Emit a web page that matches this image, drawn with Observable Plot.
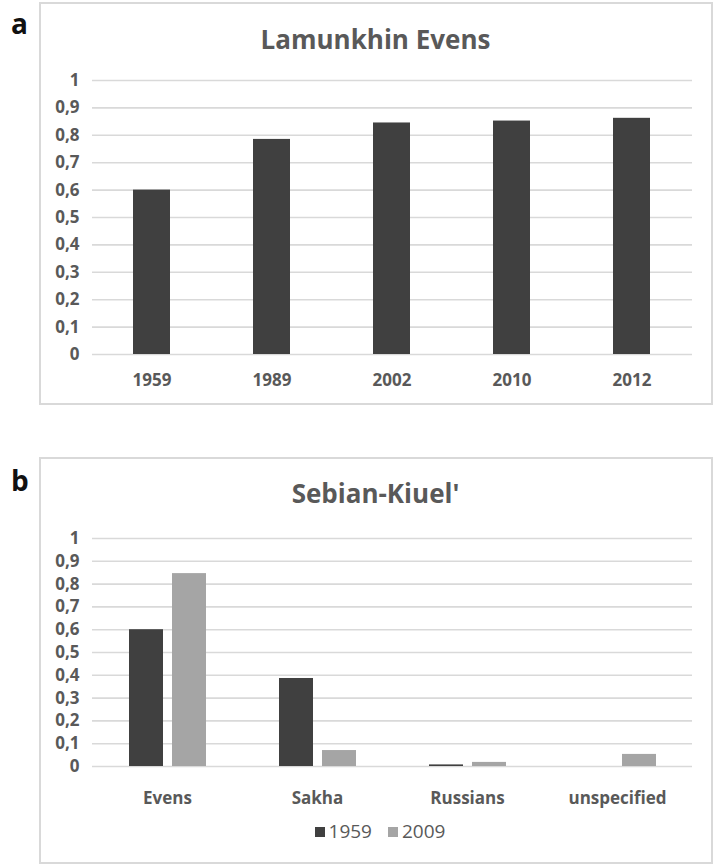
<!DOCTYPE html>
<html>
<head>
<meta charset="utf-8">
<script src="https://cdn.jsdelivr.net/npm/d3@7"></script>
<script src="https://cdn.jsdelivr.net/npm/@observablehq/plot@0.6"></script>
<style>
  html, body { margin: 0; padding: 0; background: #fff; }
  #root { position: relative; width: 716px; height: 865px; overflow: hidden; font-family: "Open Sans", sans-serif; }
  .frame { position: absolute; border: 2px solid #d9d9d9; box-sizing: border-box; }
  .panel-label { position: absolute; font-weight: bold; font-size: 28px; color: #111; line-height: 1; }
  .title { position: absolute; left: 39px; width: 673px; text-align: center; font-weight: bold; font-size: 26px; color: #595959; line-height: 1; }
  .plot { position: absolute; left: 0; }
  #legend { position: absolute; top: 822px; left: 44px; width: 672px; display: flex; justify-content: center; align-items: center; font-size: 19px; color: #595959; line-height: 1; }
  #legend .item { display: flex; align-items: center; margin: 0 8px; }
  #legend .sw { width: 10px; height: 10px; margin-right: 4px; }
</style>
</head>
<body>
<div id="root">
  <div class="frame" style="left:39px; top:2px; width:674px; height:403px;"></div>
  <div class="frame" style="left:39px; top:457px; width:674px; height:407px;"></div>
  <div class="panel-label" style="left:11px; top:9px;">a</div>
  <div class="panel-label" style="left:11px; top:466px;">b</div>
  <div class="title" style="top:26px;">Lamunkhin Evens</div>
  <div class="title" style="top:480px;">Sebian-Kiuel'</div>
  <div id="plotA" class="plot" style="top:0px;"></div>
  <div id="plotB" class="plot" style="top:440px;"></div>
  <div id="legend"></div>
</div>
<script>
// ---- data ----
const yearsA = ["1959", "1989", "2002", "2010", "2012"];
const valuesA = [0.60, 0.785, 0.845, 0.852, 0.862];

const groupsB = ["Evens", "Sakha", "Russians", "unspecified"];
const seriesB = ["1959", "2009"];
const values1959 = [0.60, 0.386, 0.007, 0];
const values2009 = [0.846, 0.07, 0.018, 0.053];

const yTicks = [0, 0.1, 0.2, 0.3, 0.4, 0.5, 0.6, 0.7, 0.8, 0.9, 1];
const seriesColors = ["#404040", "#a5a5a5"];

const fmt = d => String(d).replace(".", ",");
const axisStyle = {fontFamily: "Open Sans", fontSize: "17px", fontWeight: "bold", color: "#595959", background: "transparent"};

// ---- panel a ----
const dataA = yearsA.map((year, i) => ({year, value: valuesA[i]}));
const plotA = Plot.plot({
  width: 716,
  height: 404,
  marginLeft: 92,
  marginRight: 24,
  marginTop: 80,
  marginBottom: 50,
  style: axisStyle,
  x: {domain: yearsA, paddingInner: 0.69, paddingOuter: 0.345, tickSize: 0, tickPadding: 19, label: null},
  y: {domain: [0, 1], ticks: yTicks, tickFormat: fmt, tickSize: 0, tickPadding: 13, label: null},
  marks: [
    Plot.ruleY(yTicks, {stroke: "#d9d9d9", strokeWidth: 1.6}),
    Plot.barY(dataA, {x: "year", y: "value", fill: seriesColors[0]})
  ]
});
document.getElementById("plotA").appendChild(plotA);

// ---- panel b ----
const dataB = [];
groupsB.forEach((g, i) => {
  dataB.push({group: g, series: seriesB[0], value: values1959[i]});
  dataB.push({group: g, series: seriesB[1], value: values2009[i]});
});
const plotB = Plot.plot({
  width: 716,
  height: 386,
  marginLeft: 92,
  marginRight: 24,
  marginTop: 98,
  marginBottom: 60,
  style: axisStyle,
  fx: {domain: groupsB, paddingInner: 0, paddingOuter: 0, axis: "bottom", tickSize: 0, tickPadding: 25, label: null},
  x: {domain: seriesB, paddingInner: 0.22, paddingOuter: 0.834, axis: null},
  y: {domain: [0, 1], ticks: yTicks, tickFormat: fmt, tickSize: 0, tickPadding: 13, label: null},
  color: {domain: seriesB, range: seriesColors},
  marks: [
    Plot.ruleY(yTicks, {stroke: "#d9d9d9", strokeWidth: 1.6}),
    Plot.barY(dataB, {fx: "group", x: "series", y: "value", fill: "series"})
  ]
});
document.getElementById("plotB").appendChild(plotB);

// ---- legend ----
const legend = document.getElementById("legend");
seriesB.forEach((s, i) => {
  const item = document.createElement("div");
  item.className = "item";
  const sw = document.createElement("div");
  sw.className = "sw";
  sw.style.background = seriesColors[i];
  const label = document.createElement("span");
  label.textContent = s;
  item.appendChild(sw);
  item.appendChild(label);
  legend.appendChild(item);
});
</script>
</body>
</html>
